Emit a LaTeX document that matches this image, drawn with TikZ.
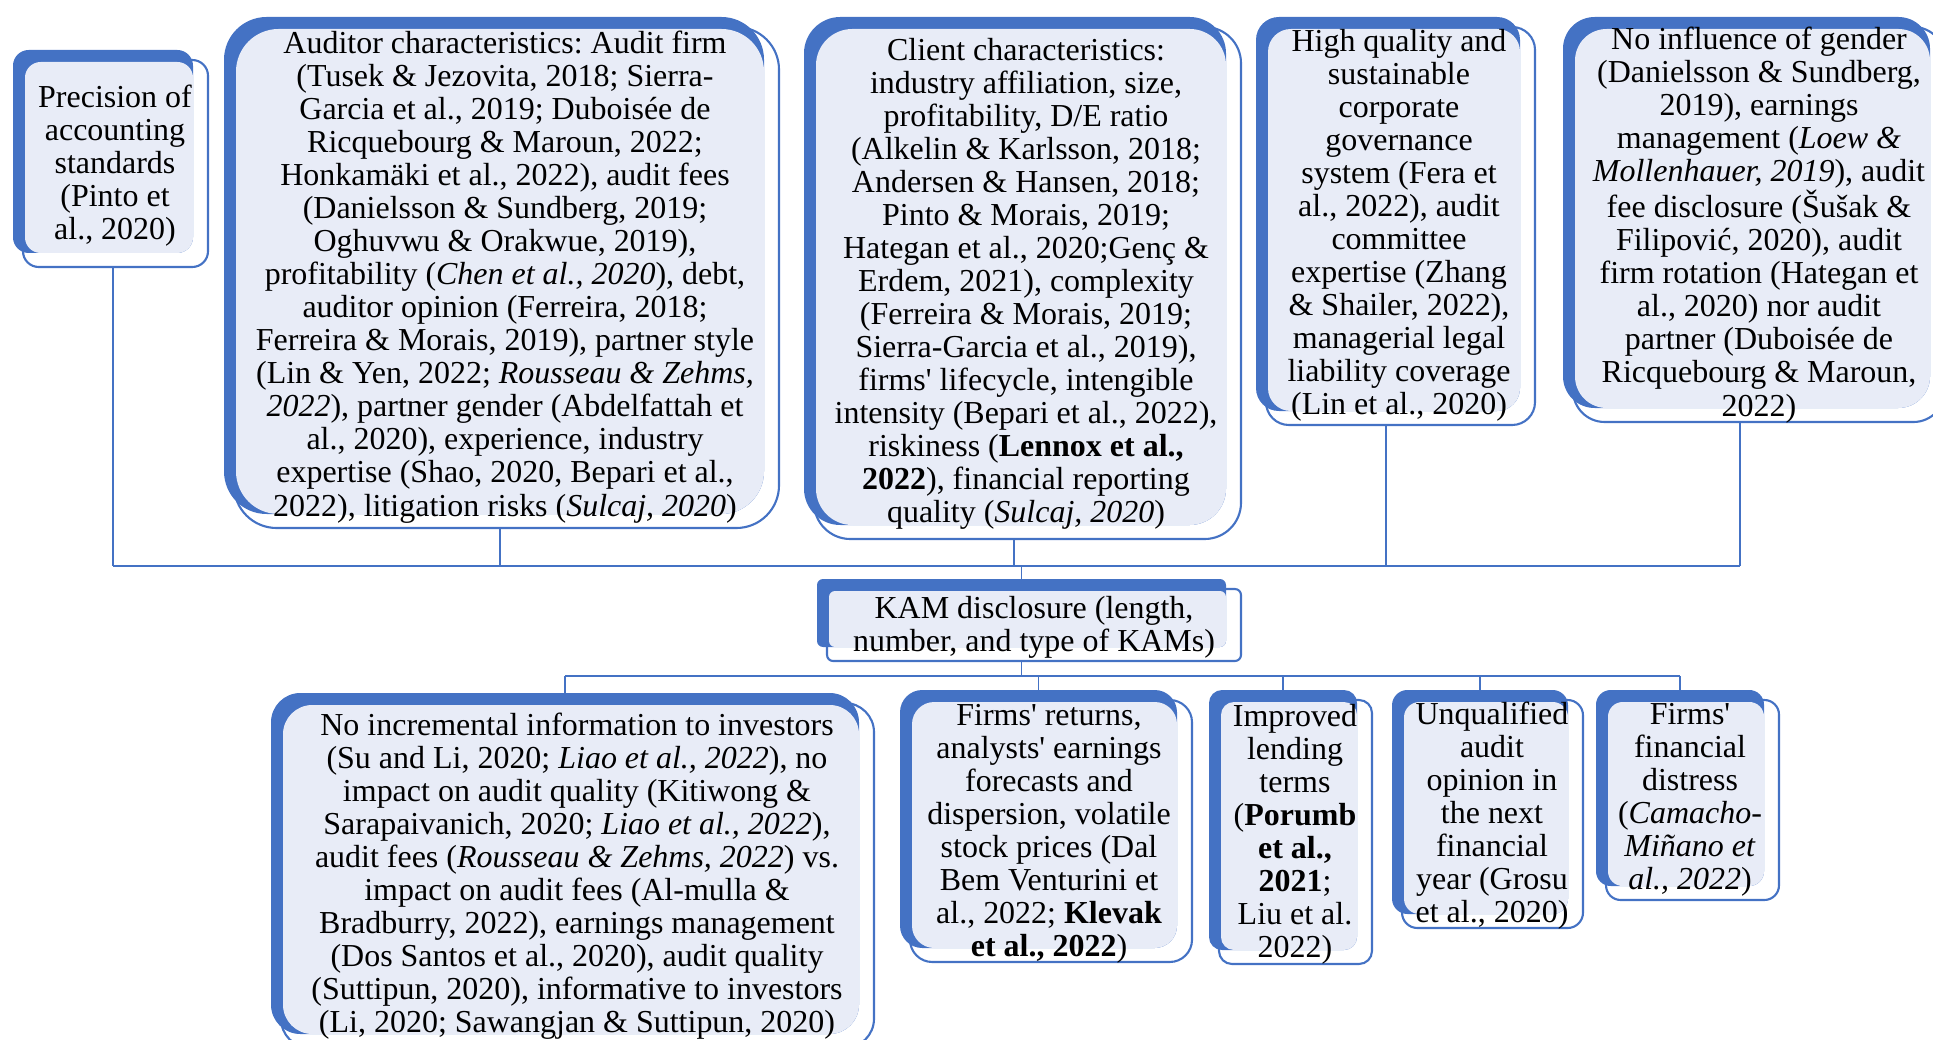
\documentclass[tikz,border=0pt]{standalone}
\usepackage{fontspec}
\setmainfont{Liberation Serif}
\newfontfamily\kamfont{Liberation Serif}
\usepackage{tikz}
\usetikzlibrary{calc}
\definecolor{kamblue}{HTML}{4472C4}
\definecolor{kamfill}{HTML}{E8ECF7}
\tikzset{
  backbox/.style={fill=kamblue},
  innerbox/.style={fill=kamfill},
  framebox/.style={draw=kamblue, line width=1.2pt},
  link/.style={draw=kamblue, line width=1pt},
  bus/.style={draw=kamblue, line width=1.6pt},
  txt/.style={align=center, inner sep=0pt, font=\kamfont\frenchspacing\fontsize{18.2}{18.8}\selectfont}
}
% box with shadow: [shift of link], name, x0, y0, x1, y1 of the frame (px)
\newcommand{\litbox}[6][12.5]{%
  \pgfmathsetmacro{\boxrad}{0.085*min(#5-#3,#6-#4)*0.569}%
  \fill[backbox, rounded corners=\boxrad pt] (#3-10,#4-10) rectangle (#5-15,#6-14);
  \fill[innerbox, rounded corners=\boxrad pt] (#3+2,#4+2) rectangle (#5-15,#6-14);
  \draw[framebox, rounded corners=\boxrad pt] (#3,#4) rectangle (#5,#6);
  \coordinate (#2-n) at ({(#3+#5)/2-#1},#4-10);
  \coordinate (#2-s) at ({(#3+#5)/2-#1},#6);
}

\begin{document}
\begin{tikzpicture}[x=0.02cm, y=-0.02cm]
  \clip (0,0) rectangle (1933,1040);

  % determinants
  \litbox[2.5]{prec}{23}{60}{208}{267}
  \litbox[6.5]{audit}{234}{27}{779}{528}
  \litbox[13.5]{client}{814}{27}{1241}{539}
  \litbox[14.5]{gov}{1266}{27}{1535}{425}
  \litbox[19]{gender}{1573}{27}{1945}{422}

  \node[txt] (prec) at (115,166) {Precision of\\accounting\\standards\\(Pinto et\\al., 2020)};
  \node[txt] (audit) at (505,277) {Auditor characteristics: Audit firm\\
    (Tusek \& Jezovita, 2018; Sierra-\\
    Garcia et al., 2019; Duboisée de\\
    Ricquebourg \& Maroun, 2022;\\
    Honkamäki et al., 2022), audit fees\\
    (Danielsson \& Sundberg, 2019;\\
    Oghuvwu \& Orakwue, 2019),\\
    profitability (\textit{Chen et al., 2020}), debt,\\
    auditor opinion (Ferreira, 2018;\\
    Ferreira \& Morais, 2019), partner style\\
    (Lin \& Yen, 2022; \textit{Rousseau \& Zehms,}\\
    \textit{2022}), partner gender (Abdelfattah et\\
    al., 2020), experience, industry\\
    expertise (Shao, 2020, Bepari et al.,\\
    2022), litigation risks (\textit{Sulcaj, 2020})};
  \node[txt] (client) at (1026,284) {Client characteristics:\\
    industry affiliation, size,\\
    profitability, D/E ratio\\
    (Alkelin \& Karlsson, 2018;\\
    Andersen \& Hansen, 2018;\\
    Pinto \& Morais, 2019;\\
    Hategan et al., 2020;Genç \&\\
    Erdem, 2021), complexity\\
    (Ferreira \& Morais, 2019;\\
    Sierra-Garcia et al., 2019),\\
    firms' lifecycle, intengible\\
    intensity (Bepari et al., 2022),\\
    riskiness (\textbf{Lennox et al.,}\\
    \textbf{2022}), financial reporting\\
    quality (\textit{Sulcaj, 2020})};
  \node[txt] (gov) at (1399,225) {High quality and\\sustainable\\corporate\\governance\\
    system (Fera et\\al., 2022), audit\\committee\\expertise (Zhang\\
    \& Shailer, 2022),\\managerial legal\\liability coverage\\(Lin et al., 2020)};
  \node[txt] (gender) at (1759,225) {No influence of gender\\
    (Danielsson \& Sundberg,\\
    2019), earnings\\
    management (\textit{Loew \&}\\
    \textit{Mollenhauer, 2019}), audit\\
    fee disclosure (Šušak \&\\
    Filipović, 2020), audit\\
    firm rotation (Hategan et\\
    al., 2020) nor audit\\
    partner (Duboisée de\\
    Ricquebourg \& Maroun,\\
    2022)};

  % KAM
  \litbox{kam}{827}{589}{1241}{661}
  \node[txt] (kam) at (1034,627) {KAM disclosure (length,\\number, and type of KAMs)};

  % consequences
  \litbox{noinfo}{281}{703}{874}{1048}
  \litbox{returns}{910}{700}{1192}{962}
  \litbox{lending}{1219}{700}{1372}{964}
  \litbox{opinion}{1402}{700}{1583}{928}
  \litbox{distress}{1606}{700}{1779}{900}

  \node[txt] (noinfo) at (577,876) {No incremental information to investors\\
    (Su and Li, 2020; \textit{Liao et al., 2022}), no\\
    impact on audit quality (Kitiwong \&\\
    Sarapaivanich, 2020; \textit{Liao et al., 2022}),\\
    audit fees (\textit{Rousseau \& Zehms, 2022}) vs.\\
    impact on audit fees (Al-mulla \&\\
    Bradburry, 2022), earnings management\\
    (Dos Santos et al., 2020), audit quality\\
    (Suttipun, 2020), informative to investors\\
    (Li, 2020; Sawangjan \& Suttipun, 2020)};
  \node[txt] (returns) at (1049,834) {Firms' returns,\\analysts' earnings\\forecasts and\\
    dispersion, volatile\\stock prices (Dal\\Bem Venturini et\\
    al., 2022; \textbf{Klevak}\\\textbf{et al., 2022})};
  \node[txt] (lending) at (1295,834) {Improved\\lending\\terms\\(\textbf{Porumb}\\
    \textbf{et al.,}\\\textbf{2021};\\Liu et al.\\2022)};
  \node[txt] (opinion) at (1492,816) {Unqualified\\audit\\opinion in\\the next\\
    financial\\year (Grosu\\et al., 2020)};
  \node[txt] (distress) at (1690,800) {Firms'\\financial\\distress\\
    (\textit{Camacho-}\\\textit{Miñano et}\\\textit{al., 2022})};

  % links
  \coordinate (topbus) at (0,566);
  \coordinate (lowbus) at (0,676);
  \foreach \b in {prec,audit,client,gov,gender}
    \draw[link] (\b-s) -- (\b-s |- topbus);
  \draw[bus] (prec-s |- topbus) -- (gender-s |- topbus);
  \draw[link] (kam-n |- topbus) -- (kam-n);
  \draw[link] (kam-s) -- (kam-s |- lowbus);
  \draw[bus] (noinfo-n |- lowbus) -- (distress-n |- lowbus);
  \foreach \b in {noinfo,returns,lending,opinion,distress}
    \draw[link] (\b-n |- lowbus) -- (\b-n);
\end{tikzpicture}
\end{document}
